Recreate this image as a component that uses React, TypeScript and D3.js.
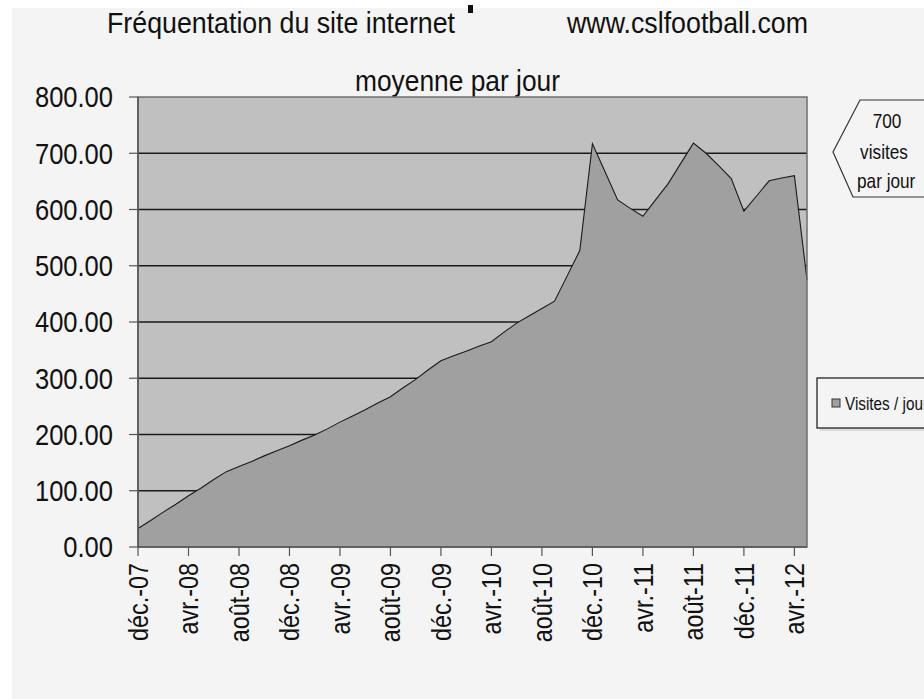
import React from "react";
import * as d3 from "d3";

const months: string[] = [
  "déc.-07", "janv.-08", "févr.-08", "mars-08", "avr.-08", "mai-08", "juin-08", "juil.-08",
  "août-08", "sept.-08", "oct.-08", "nov.-08", "déc.-08", "janv.-09", "févr.-09", "mars-09",
  "avr.-09", "mai-09", "juin-09", "juil.-09", "août-09", "sept.-09", "oct.-09", "nov.-09",
  "déc.-09", "janv.-10", "févr.-10", "mars-10", "avr.-10", "mai-10", "juin-10", "juil.-10",
  "août-10", "sept.-10", "oct.-10", "nov.-10", "déc.-10", "janv.-11", "févr.-11", "mars-11",
  "avr.-11", "mai-11", "juin-11", "juil.-11", "août-11", "sept.-11", "oct.-11", "nov.-11",
  "déc.-11", "janv.-12", "févr.-12", "mars-12", "avr.-12", "mai-12",
];

const visites: number[] = [
  33, 47, 62, 76, 91, 105, 120, 134,
  143, 152, 162, 171, 180, 190, 199, 210,
  222, 233, 244, 256, 267, 283, 298, 315,
  331, 340, 348, 357, 365, 382, 398, 411,
  424, 437, 482, 527, 717, 667, 617, 602,
  588, 617, 646, 682, 718, 700, 678, 655,
  597, 624, 651, 656, 660, 475,
];

const yTicks: number[] = [0, 100, 200, 300, 400, 500, 600, 700, 800];

const titleText = "Fréquentation du site internet";
const siteText = "www.cslfootball.com";
const subtitleText = "moyenne par jour";
const calloutLines: string[] = ["700", "visites", "par jour"];
const legendLabel = "Visites / jour";

const FONT = "'Liberation Sans', Arial, Helvetica, sans-serif";

function NText(props: {
  x: number;
  y: number;
  sx: number;
  fs: number;
  anchor?: "start" | "middle" | "end";
  rotate?: number;
  dy?: string;
  children: React.ReactNode;
}) {
  const { x, y, sx, fs, anchor = "start", rotate = 0, dy, children } = props;
  return (
    <g transform={`translate(${x},${y}) rotate(${rotate}) scale(${sx},1)`}>
      <text x={0} y={0} dy={dy} fontSize={fs} textAnchor={anchor} fill="#111">
        {children}
      </text>
    </g>
  );
}

export default function App() {
  const W = 924;
  const H = 699;
  const left = 138;
  const right = 807;
  const top = 97;
  const bottom = 547;

  const x = d3.scalePoint<string>().domain(months).range([left, right]);
  const y = d3.scaleLinear().domain([0, 800]).range([bottom, top]);

  const data = months.map((m, i) => ({ m, v: visites[i] }));
  const area = d3
    .area<{ m: string; v: number }>()
    .x((d) => x(d.m) as number)
    .y0(y(0))
    .y1((d) => y(d.v));
  const line = d3
    .line<{ m: string; v: number }>()
    .x((d) => x(d.m) as number)
    .y((d) => y(d.v));

  const xTickCats = months.filter((_, i) => i % 4 === 0);

  return (
    <svg
      width={W}
      height={H}
      style={{ position: "absolute", left: 0, top: 0, display: "block" }}
      fontFamily={FONT}
    >
      <rect x={0} y={0} width={W} height={H} fill="#ffffff" />
      <rect x={12} y={8} width={W - 12} height={H - 8} fill="#f4f4f4" />
      <rect x={468} y={5} width={5} height={8} fill="#111" />

      {/* titles */}
      <text x={107} y={33} fontSize={29} fill="#111" textLength={348} lengthAdjust="spacingAndGlyphs">
        {titleText}
      </text>
      <text x={567} y={33} fontSize={29} fill="#111" textLength={241} lengthAdjust="spacingAndGlyphs">
        {siteText}
      </text>
      <text x={355} y={91} fontSize={29} fill="#111" textLength={205} lengthAdjust="spacingAndGlyphs">
        {subtitleText}
      </text>

      {/* plot area */}
      <rect x={left} y={top} width={right - left} height={bottom - top} fill="#c0c0c0" />
      {yTicks
        .filter((t) => t > 0 && t < 800)
        .map((t) => (
          <line key={"g" + t} x1={left} x2={right} y1={y(t)} y2={y(t)} stroke="#1a1a1a" strokeWidth={1.3} />
        ))}
      <path d={area(data) || ""} fill="#a0a0a0" />
      <path d={line(data) || ""} fill="none" stroke="#1a1a1a" strokeWidth={1.1} />
      <rect x={left} y={top} width={right - left} height={bottom - top} fill="none" stroke="#6e6e6e" strokeWidth={1.5} />

      {/* y axis */}
      <line x1={left} x2={left} y1={top} y2={bottom} stroke="#555" strokeWidth={1.5} />
      {yTicks.map((t) => (
        <g key={"y" + t}>
          <line x1={left - 9} x2={left} y1={y(t)} y2={y(t)} stroke="#555" strokeWidth={1.2} />
          <NText x={113} y={y(t)} sx={0.88} fs={29} anchor="end" dy="0.36em">
            {t.toFixed(2)}
          </NText>
        </g>
      ))}

      {/* x axis */}
      <line x1={left} x2={right} y1={bottom} y2={bottom} stroke="#555" strokeWidth={1.5} />
      {xTickCats.map((c) => {
        const px = x(c) as number;
        return (
          <g key={"x" + c}>
            <line x1={px} x2={px} y1={bottom} y2={bottom + 9} stroke="#555" strokeWidth={1.2} />
            <NText x={px} y={563} sx={0.85} fs={27.5} anchor="end" rotate={-90} dy="0.36em">
              {c}
            </NText>
          </g>
        );
      })}

      {/* callout */}
      <polygon
        points="833,152 860,100 930,100 930,197 853,197"
        fill="#f4f4f4"
        stroke="#333"
        strokeWidth={1.2}
      />
      <NText x={887} y={128} sx={0.82} fs={21} anchor="middle">
        {calloutLines[0]}
      </NText>
      <NText x={884} y={159} sx={0.82} fs={21} anchor="middle">
        {calloutLines[1]}
      </NText>
      <NText x={857} y={188} sx={0.82} fs={21}>
        {calloutLines[2]}
      </NText>

      {/* legend */}
      <rect x={820} y={381} width={120} height={50} fill="#dcdcdc" />
      <rect x={817} y={378} width={120} height={50} fill="#f4f4f4" stroke="#111" strokeWidth={1.2} />
      <rect x={832} y={399} width={8} height={8} fill="#a0a0a0" stroke="#333" strokeWidth={1} />
      <NText x={845} y={410} sx={0.85} fs={18}>
        {legendLabel}
      </NText>
    </svg>
  );
}
